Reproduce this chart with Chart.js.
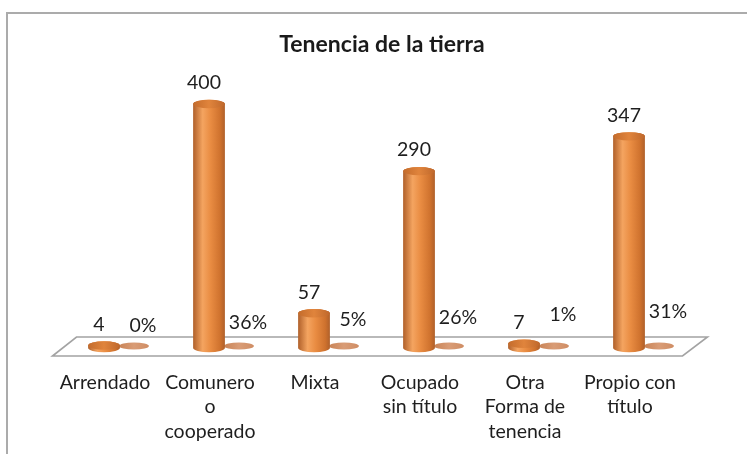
<!DOCTYPE html>
<html>
<head>
<meta charset="utf-8">
<script src="https://cdn.jsdelivr.net/npm/chart.js@4.4.1/dist/chart.umd.min.js"></script>
<style>
  html, body { margin: 0; padding: 0; background: #fff; width: 747px; height: 454px; overflow: hidden; }
  #frame { position: absolute; left: 6px; top: 12px; width: 780px; height: 480px; border: 2px solid #ababab; box-sizing: border-box; }
  #wrap { position: absolute; left: 0; top: 0; width: 747px; height: 454px; }
</style>
</head>
<body>
<div id="frame"></div>
<div id="wrap"><canvas id="tenencia" width="747" height="454"></canvas></div>
<script>
// Tenencia de la tierra: número de predios y participación porcentual
const categories = [
  ['Arrendado'],
  ['Comunero', 'o', 'cooperado'],
  ['Mixta'],
  ['Ocupado', 'sin título'],
  ['Otra', 'Forma de', 'tenencia'],
  ['Propio con', 'título'],
];
const counts = [4, 400, 57, 290, 7, 347];
const shares = [0.00, 0.36, 0.05, 0.26, 0.01, 0.31];

const FONT = 'Lato, "Open Sans", sans-serif';
const DEPTH = 14;          // cylinders sit halfway back on the floor
const FLOOR_BACK = 24;     // horizontal offset of the floor's back edge

const ORANGE = { edge: '#b0602a', light: '#f4a460', mid: '#e98c42', cap: '#e0843c' };
const SHARE_DISK = '#d99c76';

function drawCylinder(ctx, cx, top, base, rx, ry, pal) {
  const g = ctx.createLinearGradient(cx - rx, 0, cx + rx, 0);
  g.addColorStop(0, pal.edge);
  g.addColorStop(0.3, pal.light);
  g.addColorStop(0.55, pal.mid);
  g.addColorStop(0.85, '#cf722e');
  g.addColorStop(1, pal.edge);
  ctx.fillStyle = g;
  ctx.beginPath();
  ctx.moveTo(cx - rx, top);
  ctx.lineTo(cx - rx, base);
  ctx.ellipse(cx, base, rx, ry, 0, Math.PI, 0, true);
  ctx.lineTo(cx + rx, top);
  ctx.ellipse(cx, top, rx, ry, 0, 0, Math.PI, true);
  ctx.closePath();
  ctx.fill();

  const cg = ctx.createLinearGradient(cx - rx, 0, cx + rx, 0);
  cg.addColorStop(0, '#c46c2c');
  cg.addColorStop(0.5, pal.cap);
  cg.addColorStop(1, '#bf682c');
  ctx.fillStyle = cg;
  ctx.beginPath();
  ctx.ellipse(cx, top, rx, ry, 0, 0, Math.PI * 2);
  ctx.fill();
}

function drawDisk(ctx, cx, y, rx, ry) {
  const g = ctx.createLinearGradient(cx - rx, 0, cx + rx, 0);
  g.addColorStop(0, '#c98457');
  g.addColorStop(0.5, SHARE_DISK);
  g.addColorStop(1, '#cf8d64');
  ctx.fillStyle = g;
  ctx.beginPath();
  ctx.ellipse(cx, y, rx, ry, 0, 0, Math.PI * 2);
  ctx.fill();
}

const cylinderPlugin = {
  id: 'cylinders',
  beforeDatasetsDraw(chart) {
    const { ctx, chartArea: a, scales: { y } } = chart;
    const zero = y.getPixelForValue(0);
    ctx.save();
    ctx.beginPath();
    ctx.moveTo(a.left, zero + 8);
    ctx.lineTo(a.left + FLOOR_BACK, zero - 11);
    ctx.lineTo(a.right + FLOOR_BACK + 1, zero - 11);
    ctx.lineTo(a.right, zero + 8);
    ctx.closePath();
    ctx.fillStyle = '#ffffff';
    ctx.fill();
    ctx.strokeStyle = '#a3a3a3';
    ctx.lineWidth = 1.6;
    ctx.stroke();
    ctx.restore();
  },
  afterDatasetsDraw(chart) {
    const { ctx } = chart;
    const countBars = chart.getDatasetMeta(0).data;
    const shareBars = chart.getDatasetMeta(1).data;
    ctx.save();

    shareBars.forEach(bar => {
      drawDisk(ctx, bar.x + DEPTH, bar.base - 2, bar.width / 2 - 1, 3.6);
    });
    countBars.forEach(bar => {
      drawCylinder(ctx, bar.x + DEPTH, bar.y, bar.base, bar.width / 2, 4.2, ORANGE);
    });

    ctx.font = '19.5px ' + FONT;
    ctx.fillStyle = '#1e1e1e';
    ctx.textAlign = 'center';
    ctx.textBaseline = 'middle';
    countBars.forEach((bar, i) => {
      ctx.fillText(String(counts[i]), bar.x + DEPTH - 5, bar.y - 21);
    });
    shareBars.forEach((bar, i) => {
      const cx = bar.x + DEPTH;
      const lean = 22 + (cx - shareBars[0].x) * 0.026;
      ctx.fillText(Math.round(shares[i] * 100) + '%', cx + 9, bar.base - lean);
    });
    ctx.restore();
  },
  afterDraw(chart) {
    const { ctx } = chart;
    ctx.save();
    ctx.font = 'bold 23px ' + FONT;
    ctx.fillStyle = '#1a1a1a';
    ctx.textAlign = 'center';
    ctx.textBaseline = 'middle';
    ctx.fillText('Tenencia de la tierra', 382, 45);
    ctx.restore();
  },
};

new Chart(document.getElementById('tenencia'), {
  type: 'bar',
  data: {
    labels: categories,
    datasets: [
      { label: 'Número', data: counts, backgroundColor: 'rgba(0,0,0,0)' },
      { label: 'Porcentaje', data: shares, backgroundColor: 'rgba(0,0,0,0)' },
    ],
  },
  options: {
    responsive: false,
    devicePixelRatio: 1,
    animation: false,
    events: [],
    categoryPercentage: 0.571,
    barPercentage: 1.06,
    layout: { padding: { left: 52.5, right: 64.5, top: 104, bottom: 0 } },
    plugins: {
      legend: { display: false },
      tooltip: { enabled: false },
      title: { display: false },
    },
    scales: {
      x: {
        grid: { display: false, drawTicks: false },
        border: { display: false },
        ticks: {
          color: '#1e1e1e',
          padding: 22,
          maxRotation: 0,
          autoSkip: false,
          font: { family: FONT, size: 19.5, lineHeight: 1.27 },
        },
        afterFit: axis => { axis.height = 106; },
      },
      y: { display: false, min: 0, max: 400 },
    },
  },
  plugins: [cylinderPlugin],
});
</script>
</body>
</html>
